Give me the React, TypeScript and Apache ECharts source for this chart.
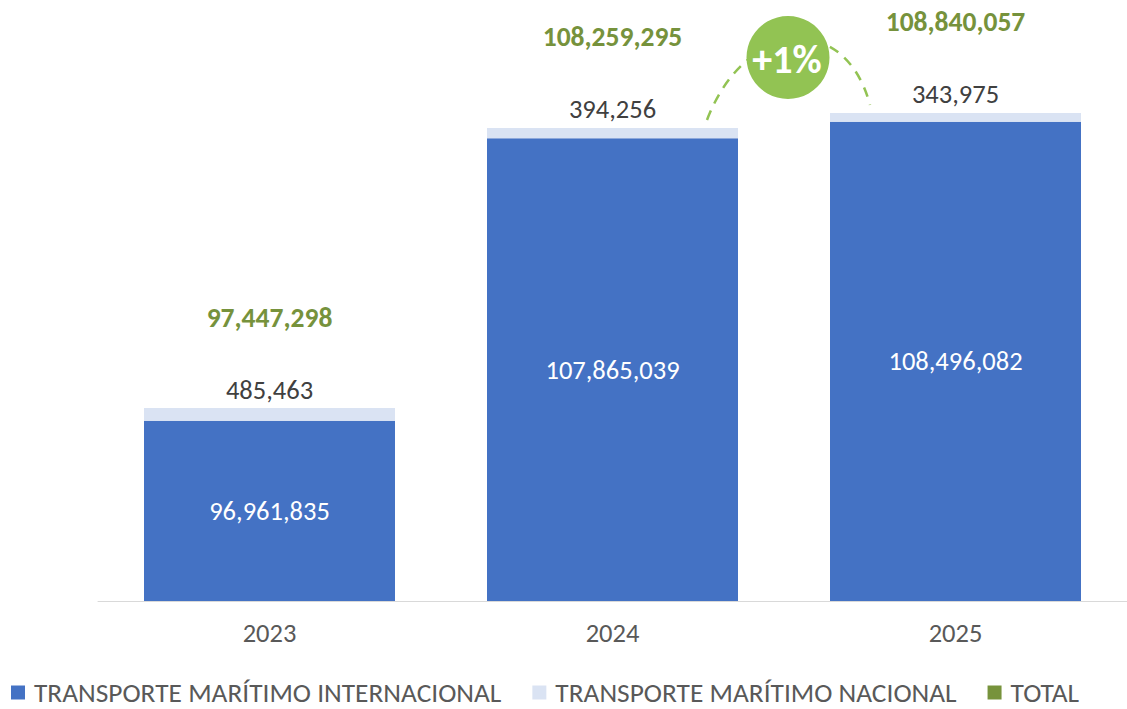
import React, { useEffect, useRef } from "react";
import * as echarts from "echarts";

const categories = ["2023", "2024", "2025"];
const internacional = [96961835, 107865039, 108496082];
const nacional = [485463, 394256, 343975];
const total = [97447298, 108259295, 108840057];
const growthLabel = "+1%";

const FONT = "Carlito, Lato, 'Open Sans', sans-serif";
const fmt = (v: number) => v.toLocaleString("en-US");

export default function App() {
  const ref = useRef<HTMLDivElement>(null);
  useEffect(() => {
    if (!ref.current) return;
    const chart = echarts.init(ref.current, null, { renderer: "svg" });
    const green = "#92C353";
    chart.setOption({
      animation: false,
      textStyle: { fontFamily: FONT },
      grid: { left: 98, top: 0, width: 1038, height: 601 },
      xAxis: {
        type: "category",
        data: categories,
        axisLine: { lineStyle: { color: "#D9D9D9", width: 1 } },
        axisTick: { show: false },
        axisLabel: { color: "#595959", fontSize: 26.5, margin: 18, fontFamily: FONT },
      },
      yAxis: {
        type: "value",
        min: 90000000,
        max: 113200000,
        show: false,
        splitLine: { show: false },
      },
      legend: {
        left: 6,
        top: 674,
        padding: [5, 5, 0, 5],
        itemWidth: 14,
        itemHeight: 14,
        itemGap: 31,
        icon: "rect",
        textStyle: {
          color: "#595959",
          fontSize: 27.4,
          fontFamily: FONT,
          padding: [0, 0, 0, 4],
        },
        data: [
          "TRANSPORTE MARÍTIMO INTERNACIONAL",
          "TRANSPORTE MARÍTIMO NACIONAL",
          "TOTAL",
        ],
      },
      series: [
        {
          name: "TRANSPORTE MARÍTIMO INTERNACIONAL",
          type: "bar",
          stack: "a",
          barWidth: 251,
          data: internacional,
          itemStyle: { color: "#4472C4" },
          label: {
            show: true,
            position: "inside",
            color: "#FFFFFF",
            fontSize: 26.5,
            fontFamily: FONT,
            formatter: (p: any) => fmt(p.value),
          },
        },
        {
          name: "TRANSPORTE MARÍTIMO NACIONAL",
          type: "bar",
          stack: "a",
          barWidth: 251,
          data: nacional,
          itemStyle: { color: "#DAE3F3" },
          label: {
            show: true,
            position: "top",
            distance: 5,
            color: "#404040",
            fontSize: 26.5,
            fontFamily: FONT,
            formatter: (p: any) => fmt(p.value),
          },
        },
        {
          name: "TOTAL",
          type: "scatter",
          data: total,
          symbolSize: 0,
          itemStyle: { color: "#77933C", opacity: 1 },
          label: {
            show: true,
            position: "inside",
            offset: [0, -91],
            color: "#76923C",
            fontSize: 27.5,
            fontWeight: "bold",
            fontFamily: FONT,
            formatter: (p: any) => fmt(p.value),
          },
          z: 5,
        },
      ],
      graphic: [
        {
          type: "bezierCurve",
          shape: { x1: 707, y1: 120, cpx1: 745, cpy1: 20, cpx2: 845, cpy2: 10, x2: 870, y2: 105 },
          style: { stroke: green, lineWidth: 2.5, lineDash: [10, 8], fill: null },
          z: 10,
        },
        {
          type: "circle",
          shape: { cx: 788, cy: 57.5, r: 41.5 },
          style: { fill: green },
          z: 11,
        },
        {
          type: "text",
          x: 787,
          y: 59,
          style: {
            text: growthLabel,
            fill: "#FFFFFF",
            fontSize: 40,
            fontWeight: "bold",
            fontFamily: FONT,
            align: "center",
            verticalAlign: "middle",
          },
          z: 12,
        },
      ],
    });
    return () => chart.dispose();
  }, []);
  return (
    <div
      ref={ref}
      style={{ position: "absolute", left: 0, top: 0, width: 1127, height: 709, background: "#fff" }}
    />
  );
}
